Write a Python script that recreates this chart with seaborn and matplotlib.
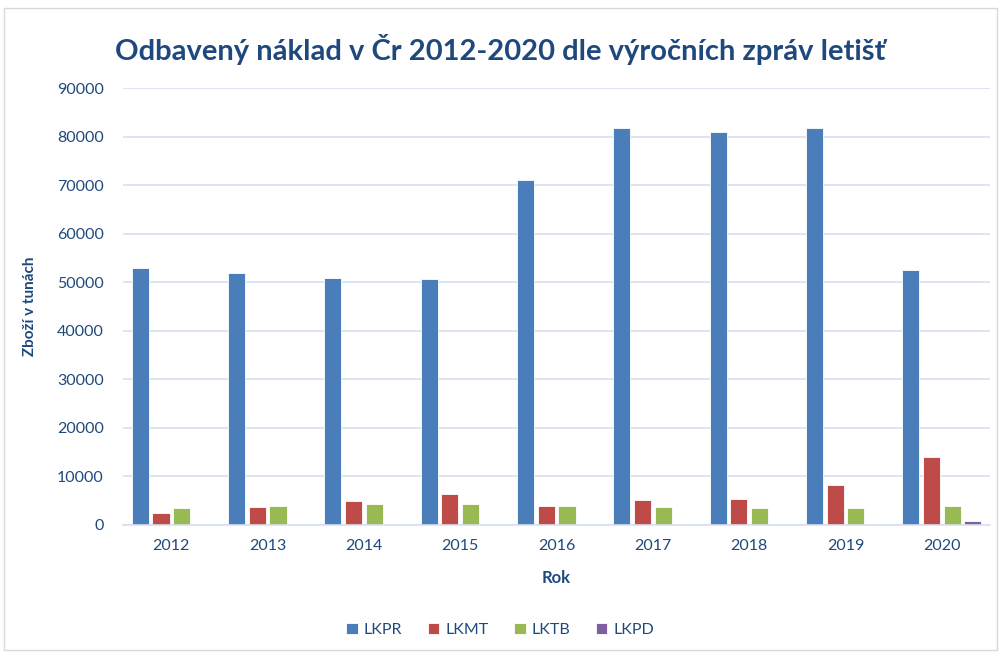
import matplotlib
matplotlib.use("Agg")
import matplotlib.pyplot as plt
import seaborn as sns
import pandas as pd
from matplotlib.patches import Rectangle

years = ["2012", "2013", "2014", "2015", "2016", "2017", "2018", "2019", "2020"]
lkpr = [53000, 51900, 50900, 50700, 71000, 81800, 80900, 81800, 52500]
lkmt = [2500, 3800, 5000, 6300, 4000, 5200, 5400, 8200, 14000]
lktb = [3600, 3900, 4300, 4400, 4000, 3700, 3600, 3400, 4000]
lkpd = [150, 150, 150, 0, 0, 150, 0, 150, 750]
series_names = ["LKPR", "LKMT", "LKTB", "LKPD"]
y_ticks = [0, 10000, 20000, 30000, 40000, 50000, 60000, 70000, 80000, 90000]

rows = []
for name, vals in zip(series_names, [lkpr, lkmt, lktb, lkpd]):
    for y, v in zip(years, vals):
        rows.append({"Rok": y, "Letiště": name, "Hodnota": v})
df = pd.DataFrame(rows)

sns.set_theme(style="white")
plt.rcParams["font.family"] = ["Lato", "DejaVu Sans"]

navy = "#1F497D"
palette = ["#4A7EBB", "#BE4B48", "#98B954", "#7D60A0"]

fig = plt.figure(figsize=(10.01, 6.55), dpi=100)
ax = fig.add_axes([0.123, 0.1985, 0.866, 0.667])

sns.barplot(data=df, x="Rok", y="Hodnota", hue="Letiště", order=years,
            hue_order=series_names, palette=palette, width=0.86, gap=0.17,
            saturation=1, edgecolor="white", linewidth=0.6, ax=ax, legend=True)

ax.set_ylim(0, 90000)
ax.set_yticks(y_ticks)
ax.set_yticklabels([str(t) for t in y_ticks])
ax.set_xlim(-0.5, len(years) - 0.5)
ax.yaxis.grid(True, color="#D6E0EF", linewidth=1.2)
ax.set_axisbelow(True)
for s in ["top", "right", "left"]:
    ax.spines[s].set_visible(False)
ax.spines["bottom"].set_color("#D6E0EF")
ax.spines["bottom"].set_linewidth(1.2)
ax.tick_params(axis="both", length=0, labelsize=11.5, labelcolor=navy, pad=10)
ax.tick_params(axis="y", pad=14)

ax.set_xlabel("Rok", fontsize=12, fontweight="bold", color=navy, labelpad=12)
ax.set_ylabel("Zboží v tunách", fontsize=11, fontweight="bold", color=navy, labelpad=14)

fig.text(0.5, 0.925, "Odbavený náklad v Čr 2012-2020 dle výročních zpráv letišť",
         ha="center", va="center", fontsize=21, fontweight="bold", color=navy)

handles, labels = ax.get_legend_handles_labels()
ax.legend_.remove()
fig.legend(handles, labels, loc="center", bbox_to_anchor=(0.5, 0.038), ncol=4,
           frameon=False, fontsize=11.5, labelcolor=navy, handlelength=0.7,
           handleheight=0.7, handletextpad=0.4, columnspacing=1.6)

fig.patches.append(Rectangle((0.004, 0.008), 0.992, 0.98, transform=fig.transFigure,
                             fill=False, edgecolor="#D9D9D9", linewidth=1))

fig.savefig("out.png", dpi=100, facecolor="white")
